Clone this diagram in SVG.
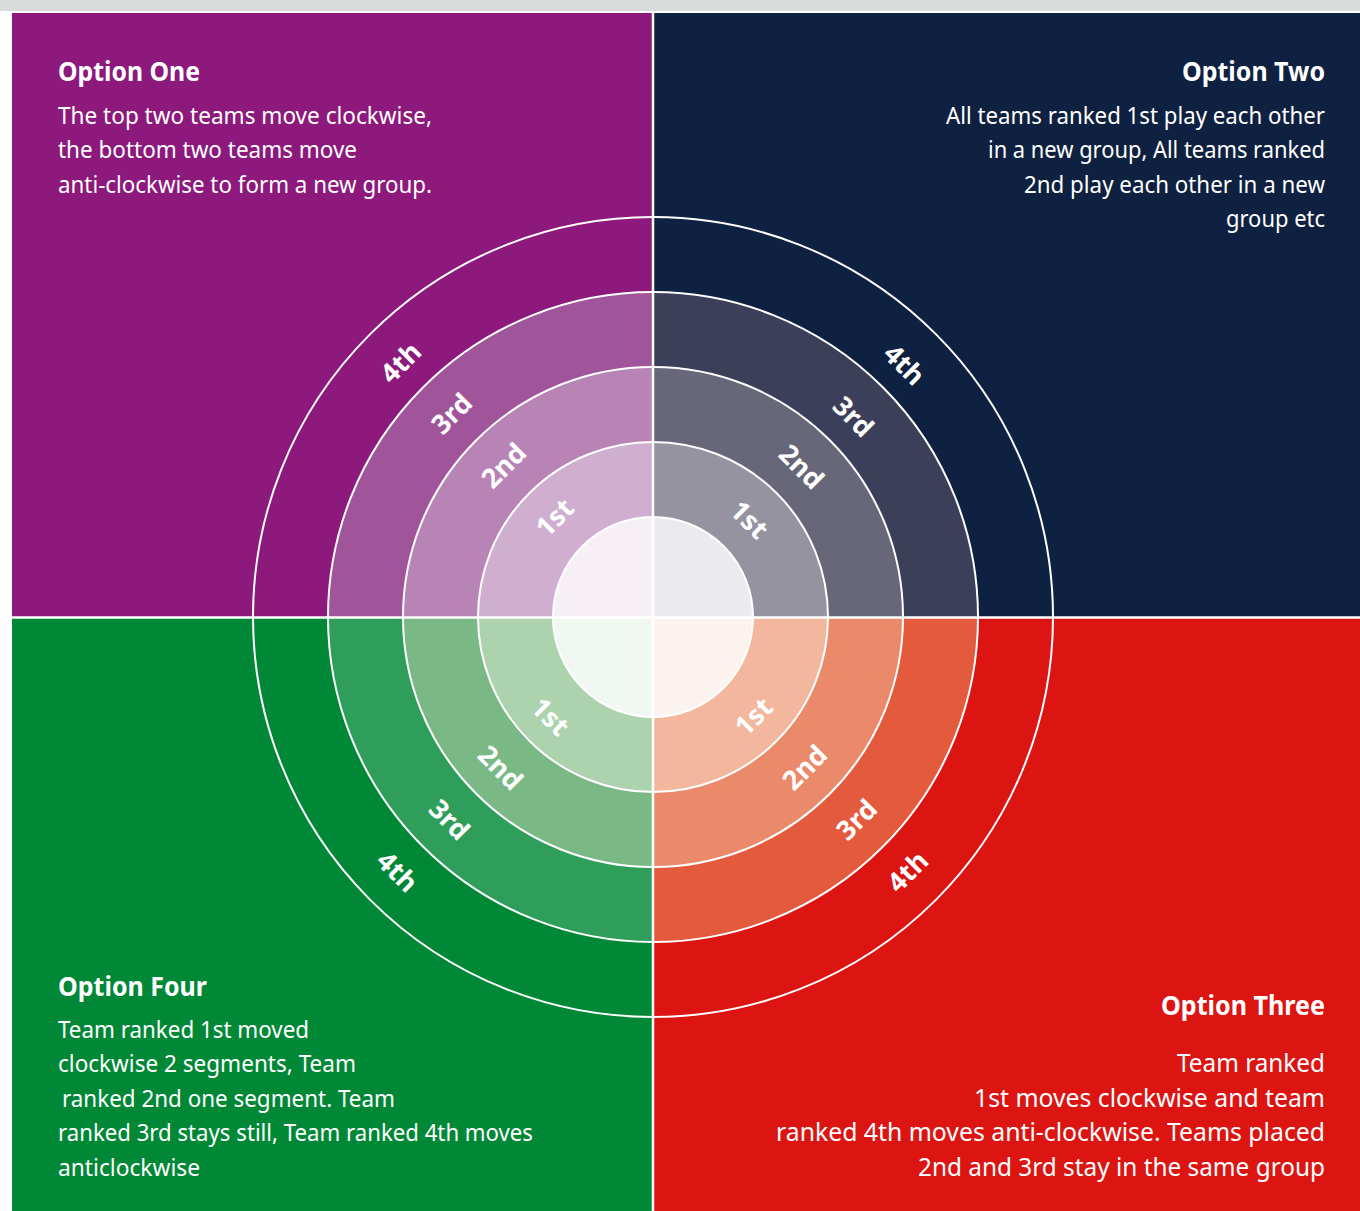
<svg xmlns="http://www.w3.org/2000/svg" width="1360" height="1211" viewBox="0 0 1360 1211">
<style>
.h{font-family:"Noto Sans","Open Sans",sans-serif;font-weight:700;font-size:26px;fill:#fff}
.b{font-family:"Noto Sans","Open Sans",sans-serif;font-size:24px;fill:#fff}
.b2{font-family:"Noto Sans","Open Sans",sans-serif;font-size:26px;fill:#fff}
.r{text-anchor:end}
.lbl{font-family:"Noto Sans","Open Sans",sans-serif;font-weight:700;font-size:27px;fill:#fff;text-anchor:middle;dominant-baseline:central}
.ring{fill:none;stroke:#fff;stroke-width:2}
.div{stroke:#fff;stroke-width:2.5}
</style>
<rect x="0" y="0" width="1360" height="1211" fill="#fff"/>
<rect x="0" y="0" width="1360" height="11" fill="#d9dada"/>

<g id="option-one">
<rect x="12" y="13" width="641" height="604" fill="#8c197b"/>
<path d="M653,617 L328,617 A325,325 0 0 1 653,292 Z" fill="#a0559a"/>
<path d="M653,617 L403,617 A250,250 0 0 1 653,367 Z" fill="#b884b5"/>
<path d="M653,617 L478,617 A175,175 0 0 1 653,442 Z" fill="#d0aed0"/>
<path d="M653,617 L553,617 A100,100 0 0 1 653,517 Z" fill="#f6f0f6"/>
<text class="h" x="58" y="81" textLength="142" lengthAdjust="spacingAndGlyphs">Option One</text>
<text class="b" x="58" y="124" textLength="374" lengthAdjust="spacingAndGlyphs">The top two teams move clockwise,</text>
<text class="b" x="58" y="158" textLength="299" lengthAdjust="spacingAndGlyphs">the bottom two teams move</text>
<text class="b" x="58" y="193" textLength="374" lengthAdjust="spacingAndGlyphs">anti-clockwise to form a new group.</text>
</g>

<g id="option-two">
<rect x="653" y="13" width="707" height="604" fill="#0f2140"/>
<path d="M653,617 L653,292 A325,325 0 0 1 978,617 Z" fill="#3c3f5a"/>
<path d="M653,617 L653,367 A250,250 0 0 1 903,617 Z" fill="#676779"/>
<path d="M653,617 L653,442 A175,175 0 0 1 828,617 Z" fill="#94939f"/>
<path d="M653,617 L653,517 A100,100 0 0 1 753,617 Z" fill="#ebebef"/>
<text class="h r" x="1325" y="81" textLength="143" lengthAdjust="spacingAndGlyphs">Option Two</text>
<text class="b r" x="1325" y="124" textLength="379" lengthAdjust="spacingAndGlyphs">All teams ranked 1st play each other</text>
<text class="b r" x="1325" y="158" textLength="337" lengthAdjust="spacingAndGlyphs">in a new group, All teams ranked</text>
<text class="b r" x="1325" y="193" textLength="301" lengthAdjust="spacingAndGlyphs">2nd play each other in a new</text>
<text class="b r" x="1325" y="227" textLength="99" lengthAdjust="spacingAndGlyphs">group etc</text>
</g>

<g id="option-three">
<rect x="653" y="617" width="707" height="594" fill="#dc1512"/>
<path d="M653,617 L978,617 A325,325 0 0 1 653,942 Z" fill="#e35a3c"/>
<path d="M653,617 L903,617 A250,250 0 0 1 653,867 Z" fill="#ea8a6b"/>
<path d="M653,617 L828,617 A175,175 0 0 1 653,792 Z" fill="#f2b79c"/>
<path d="M653,617 L753,617 A100,100 0 0 1 653,717 Z" fill="#fdf3ee"/>
<text class="h r" x="1325" y="1015" textLength="164" lengthAdjust="spacingAndGlyphs">Option Three</text>
<text class="b2 r" x="1325" y="1072" textLength="148" lengthAdjust="spacingAndGlyphs">Team ranked</text>
<text class="b2 r" x="1325" y="1107" textLength="351" lengthAdjust="spacingAndGlyphs">1st moves clockwise and team</text>
<text class="b2 r" x="1325" y="1141" textLength="549" lengthAdjust="spacingAndGlyphs">ranked 4th moves anti-clockwise. Teams placed</text>
<text class="b2 r" x="1325" y="1176" textLength="407" lengthAdjust="spacingAndGlyphs">2nd and 3rd stay in the same group</text>
</g>

<g id="option-four">
<rect x="12" y="617" width="641" height="594" fill="#008837"/>
<path d="M653,617 L653,942 A325,325 0 0 1 328,617 Z" fill="#2e9e5a"/>
<path d="M653,617 L653,867 A250,250 0 0 1 403,617 Z" fill="#7ab885"/>
<path d="M653,617 L653,792 A175,175 0 0 1 478,617 Z" fill="#acd2ae"/>
<path d="M653,617 L653,717 A100,100 0 0 1 553,617 Z" fill="#f1f8f2"/>
<text class="h" x="58" y="996" textLength="149" lengthAdjust="spacingAndGlyphs">Option Four</text>
<text class="b" x="58" y="1038" textLength="251" lengthAdjust="spacingAndGlyphs">Team ranked 1st moved</text>
<text class="b" x="58" y="1072" textLength="298" lengthAdjust="spacingAndGlyphs">clockwise 2 segments, Team</text>
<text class="b" x="62" y="1107" textLength="333" lengthAdjust="spacingAndGlyphs">ranked 2nd one segment. Team</text>
<text class="b" x="58" y="1141" textLength="475" lengthAdjust="spacingAndGlyphs">ranked 3rd stays still, Team ranked 4th moves</text>
<text class="b" x="58" y="1176" textLength="142" lengthAdjust="spacingAndGlyphs">anticlockwise</text>
</g>

<g id="rings">
<circle class="ring" cx="653" cy="617" r="400"/>
<circle class="ring" cx="653" cy="617" r="325"/>
<circle class="ring" cx="653" cy="617" r="250"/>
<circle class="ring" cx="653" cy="617" r="175"/>
<circle class="ring" cx="653" cy="617" r="100"/>
</g>

<g id="connectors">
<line class="div" x1="653" y1="12" x2="653" y2="1211"/>
<line class="div" x1="12" y1="617.5" x2="1360" y2="617.5"/>
<line x1="0" y1="12" x2="1360" y2="12" stroke="#fff" stroke-width="2"/>
</g>

<g id="labels">
<text class="lbl" transform="translate(400,362) rotate(-45)">4th</text>
<text class="lbl" transform="translate(451,413) rotate(-45)">3rd</text>
<text class="lbl" transform="translate(503,465) rotate(-45)">2nd</text>
<text class="lbl" transform="translate(554,517) rotate(-45)">1st</text>
<text class="lbl" transform="translate(905,364) rotate(45)">4th</text>
<text class="lbl" transform="translate(854,416) rotate(45)">3rd</text>
<text class="lbl" transform="translate(802,466) rotate(45)">2nd</text>
<text class="lbl" transform="translate(750,519) rotate(45)">1st</text>
<text class="lbl" transform="translate(907,871) rotate(-45)">4th</text>
<text class="lbl" transform="translate(856,819) rotate(-45)">3rd</text>
<text class="lbl" transform="translate(804,767) rotate(-45)">2nd</text>
<text class="lbl" transform="translate(753,716) rotate(-45)">1st</text>
<text class="lbl" transform="translate(398,871) rotate(45)">4th</text>
<text class="lbl" transform="translate(450,819) rotate(45)">3rd</text>
<text class="lbl" transform="translate(501,767) rotate(45)">2nd</text>
<text class="lbl" transform="translate(551,716) rotate(45)">1st</text>
</g>
</svg>
